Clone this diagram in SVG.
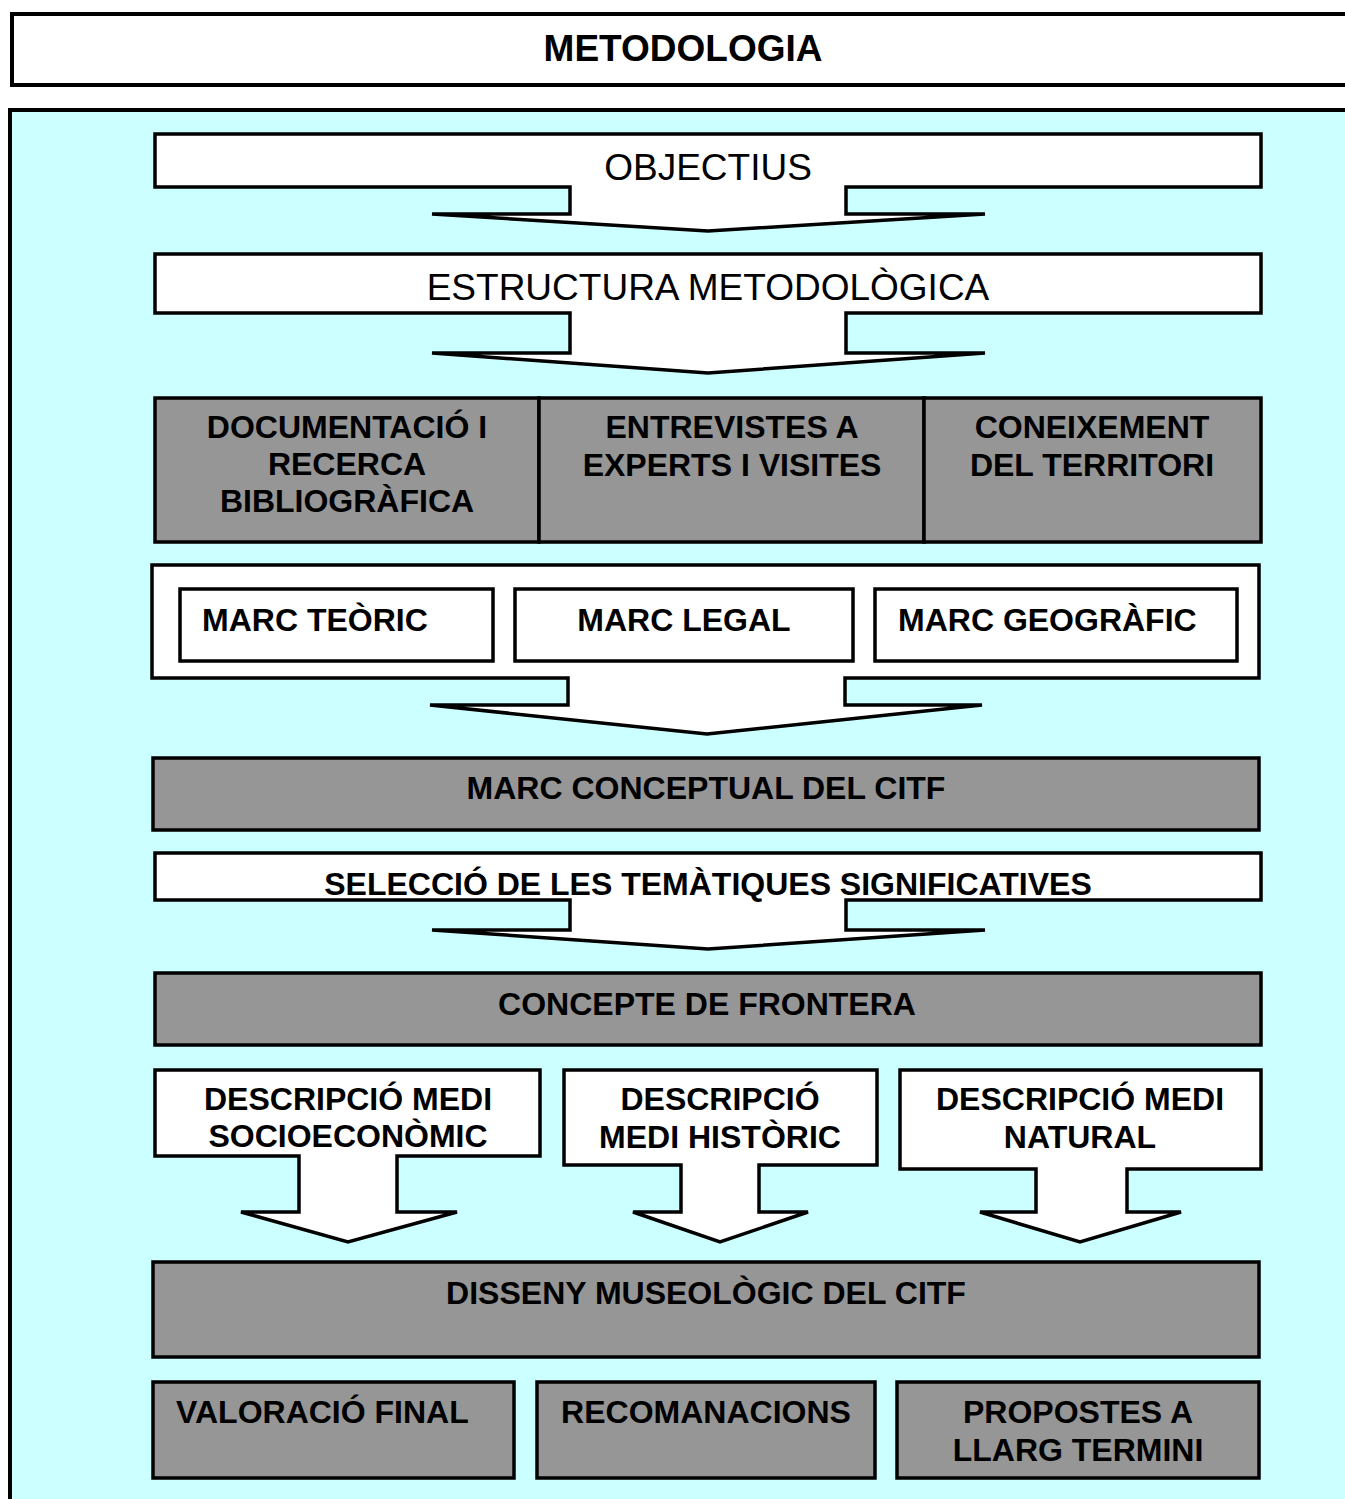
<svg xmlns="http://www.w3.org/2000/svg" width="1345" height="1499" viewBox="0 0 1345 1499">
<style>
.w{fill:#ffffff;stroke:#000;stroke-width:3.5;stroke-linejoin:miter}
.g{fill:#969696;stroke:#000;stroke-width:3.5}
.p{fill:#ccffff;stroke:#000;stroke-width:4}
.t{fill:#fff;stroke:#000;stroke-width:4}
.b{font-family:"Liberation Sans",Arial,sans-serif;font-weight:bold;font-size:32px;fill:#000;text-anchor:middle}
.bl{font-family:"Liberation Sans",Arial,sans-serif;font-weight:bold;font-size:32px;fill:#000}
.r{font-family:"Liberation Sans",Arial,sans-serif;font-size:37px;fill:#000;text-anchor:middle}
</style>
<rect width="1345" height="1499" fill="#ffffff"/>
<g id="title">
<rect class="t" x="12" y="14" width="1345" height="71"/>
<text class="b" x="683" y="61" style="font-size:37px">METODOLOGIA</text>
</g>
<g id="panel">
<rect class="p" x="10" y="110" width="1345" height="1400"/>
</g>
<g id="objectius">
<polygon class="w" points="155,134 1261,134 1261,187 846,187 846,214 985,214 708,231 432,214 570,214 570,187 155,187"/>
<text class="r" x="708" y="180">OBJECTIUS</text>
</g>
<g id="estructura">
<polygon class="w" points="155,254 1261,254 1261,313 846,313 846,353 985,353 708,373 432,353 570,353 570,313 155,313"/>
<text class="r" x="708" y="300">ESTRUCTURA METODOLÒGICA</text>
</g>
<g id="documentacio">
<rect class="g" x="155" y="398" width="384" height="144"/>
<text class="b" x="347" y="438">DOCUMENTACIÓ I</text>
<text class="b" x="347" y="475">RECERCA</text>
<text class="b" x="347" y="512">BIBLIOGRÀFICA</text>
</g>
<g id="entrevistes">
<rect class="g" x="539" y="398" width="385" height="144"/>
<text class="b" x="732" y="438">ENTREVISTES A</text>
<text class="b" x="732" y="476">EXPERTS I VISITES</text>
</g>
<g id="coneixement">
<rect class="g" x="924" y="398" width="337" height="144"/>
<text class="b" x="1092" y="438">CONEIXEMENT</text>
<text class="b" x="1092" y="476">DEL TERRITORI</text>
</g>
<g id="marcs">
<polygon class="w" points="152,565 1259,565 1259,678 845,678 845,705 982,705 707,734 430,705 568,705 568,678 152,678"/>
</g>
<g id="marc-teoric">
<rect class="w" x="180" y="589" width="313" height="72"/>
<text class="bl" x="202" y="631">MARC TEÒRIC</text>
</g>
<g id="marc-legal">
<rect class="w" x="515" y="589" width="338" height="72"/>
<text class="b" x="684" y="631">MARC LEGAL</text>
</g>
<g id="marc-geografic">
<rect class="w" x="875" y="589" width="362" height="72"/>
<text class="bl" x="898" y="631">MARC GEOGRÀFIC</text>
</g>
<g id="marc-conceptual">
<rect class="g" x="153" y="758" width="1106" height="72"/>
<text class="b" x="706" y="799">MARC CONCEPTUAL DEL CITF</text>
</g>
<g id="seleccio">
<polygon class="w" points="155,853 1261,853 1261,900 846,900 846,930 985,930 708,949 432,930 570,930 570,900 155,900"/>
<text class="b" x="708" y="895">SELECCIÓ DE LES TEMÀTIQUES SIGNIFICATIVES</text>
</g>
<g id="concepte-frontera">
<rect class="g" x="155" y="973" width="1106" height="72"/>
<text class="b" x="707" y="1015">CONCEPTE DE FRONTERA</text>
</g>
<g id="medi-socioeconomic">
<polygon class="w" points="155,1070 540,1070 540,1156 397,1156 397,1212 457,1212 348,1242 241,1212 299,1212 299,1156 155,1156"/>
<text class="b" x="348" y="1110">DESCRIPCIÓ MEDI</text>
<text class="b" x="348" y="1147">SOCIOECONÒMIC</text>
</g>
<g id="medi-historic">
<polygon class="w" points="564,1070 877,1070 877,1165 759,1165 759,1212 808,1212 720,1242 633,1212 681,1212 681,1165 564,1165"/>
<text class="b" x="720" y="1110">DESCRIPCIÓ</text>
<text class="b" x="720" y="1148">MEDI HISTÒRIC</text>
</g>
<g id="medi-natural">
<polygon class="w" points="900,1070 1261,1070 1261,1169 1127,1169 1127,1212 1181,1212 1080,1242 980,1212 1036,1212 1036,1169 900,1169"/>
<text class="b" x="1080" y="1110">DESCRIPCIÓ MEDI</text>
<text class="b" x="1080" y="1148">NATURAL</text>
</g>
<g id="disseny">
<rect class="g" x="153" y="1262" width="1106" height="95"/>
<text class="b" x="706" y="1304">DISSENY MUSEOLÒGIC DEL CITF</text>
</g>
<g id="valoracio">
<rect class="g" x="153" y="1382" width="361" height="96"/>
<text class="bl" x="176" y="1423">VALORACIÓ FINAL</text>
</g>
<g id="recomanacions">
<rect class="g" x="537" y="1382" width="338" height="96"/>
<text class="b" x="706" y="1423">RECOMANACIONS</text>
</g>
<g id="propostes">
<rect class="g" x="897" y="1382" width="362" height="96"/>
<text class="b" x="1078" y="1423">PROPOSTES A</text>
<text class="b" x="1078" y="1461">LLARG TERMINI</text>
</g>
<g id="connectors"></g>
</svg>
